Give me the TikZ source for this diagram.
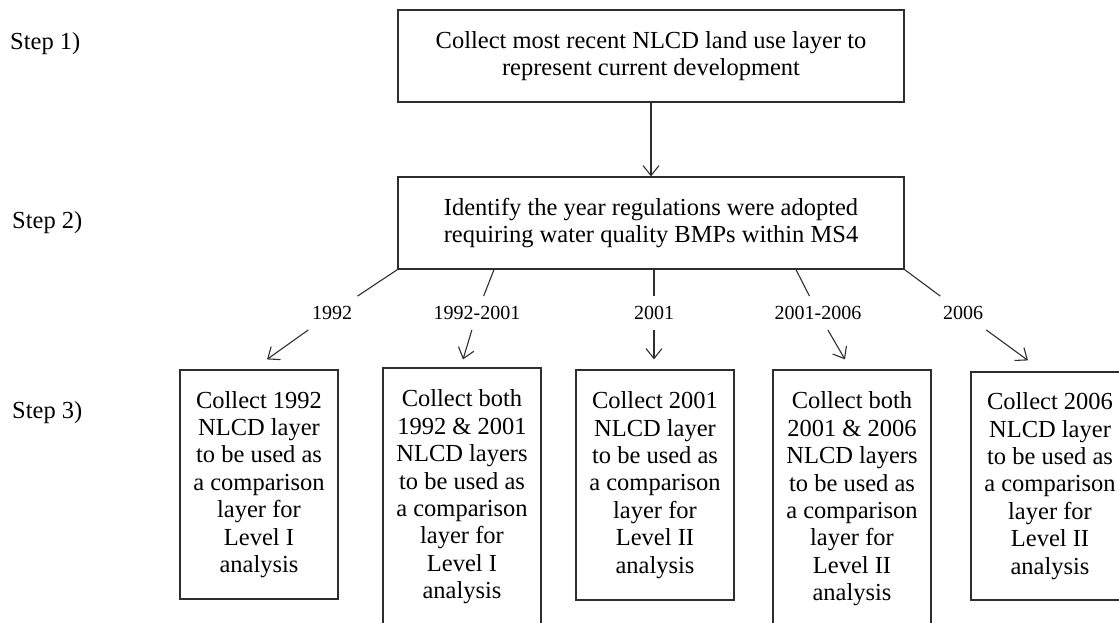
\documentclass[tikz,border=0pt]{standalone}
\usepackage{fontspec}
\setmainfont{Liberation Serif}
\usetikzlibrary{arrows.meta,calc}
\definecolor{ink}{HTML}{2E2E2E}
\begin{document}
\begin{tikzpicture}[x=1pt,y=-1pt,
  boxtxt/.style={font={\fontsize{24.5}{27.4}\selectfont}, align=center},
  stepbox/.style={boxtxt, draw=ink, line width=1.2pt, inner sep=0pt},
  steplabel/.style={font={\fontsize{24.5}{27.4}\selectfont}, anchor=west, inner sep=0pt},
  yearlabel/.style={font={\fontsize{20}{24}\selectfont}, inner xsep=8pt, inner ysep=10pt},
  link/.style={draw=ink, line width=1.1pt},
  arr/.style={link, -{Straight Barb[length=10pt,width=16pt]}}
]
\useasboundingbox (0,0) rectangle (1119,622);
\clip (0,0) rectangle (1119,622);

% step labels
\node[steplabel] (st1) at (10,44) {Step 1)};
\node[steplabel] (st2) at (12,223) {Step 2)};
\node[steplabel] (st3) at (12,413) {Step 3)};

% top two boxes
\node[stepbox, minimum width=506pt, minimum height=92pt] (s1) at (651,56)
  {Collect most recent NLCD land use layer to\\represent current development};
\node[stepbox, minimum width=506pt, minimum height=92pt] (s2) at (651,223)
  {Identify the year regulations were adopted\\requiring water quality BMPs within MS4};

% step 3 boxes
\node[stepbox, minimum width=158pt, minimum height=229pt] (b1) at (259,484.5)
  {Collect 1992\\NLCD layer\\to be used as\\a comparison\\layer for\\Level I\\analysis};
\node[stepbox, minimum width=158pt, minimum height=258pt] (b2) at (462,497)
  {Collect both\\1992 \& 2001\\NLCD layers\\to be used as\\a comparison\\layer for\\Level I\\analysis};
\node[stepbox, minimum width=158pt, minimum height=230pt] (b3) at (655,485)
  {Collect 2001\\NLCD layer\\to be used as\\a comparison\\layer for\\Level II\\analysis};
\node[stepbox, minimum width=158pt, minimum height=258pt] (b4) at (852,499)
  {Collect both\\2001 \& 2006\\NLCD layers\\to be used as\\a comparison\\layer for\\Level II\\analysis};
\node[stepbox, minimum width=158pt, minimum height=228pt] (b5) at (1050,486)
  {Collect 2006\\NLCD layer\\to be used as\\a comparison\\layer for\\Level II\\analysis};

% year labels
\node[yearlabel] (l1) at (332,313) {1992};
\node[yearlabel] (l2) at (477,313) {1992-2001};
\node[yearlabel] (l3) at (654,313) {2001};
\node[yearlabel] (l4) at (818,313) {2001-2006};
\node[yearlabel] (l5) at (963,313) {2006};

% connectors
\draw[arr] (s1.south) -- (s2.north);

\draw[link] (s2.south west) -- (l1);
\draw[arr] (l1) -- ($(b1.north)+(8,-10)$);

\draw[link] ($(s2.south)+(-157,0)$) -- (l2);
\draw[arr] (l2) -- ($(b2.north)+(1,-8)$);

\draw[link] ($(s2.south)+(3,0)$) -- (l3);
\draw[arr] (l3) -- ($(b3.north)+(-1,-10)$);

\draw[link] ($(s2.south)+(145,0)$) -- (l4);
\draw[arr] (l4) -- ($(b4.north)+(-7,-10)$);

\draw[link] (s2.south east) -- (l5);
\draw[arr] (l5) -- ($(b5.north)+(-22,-11)$);
\end{tikzpicture}
\end{document}
